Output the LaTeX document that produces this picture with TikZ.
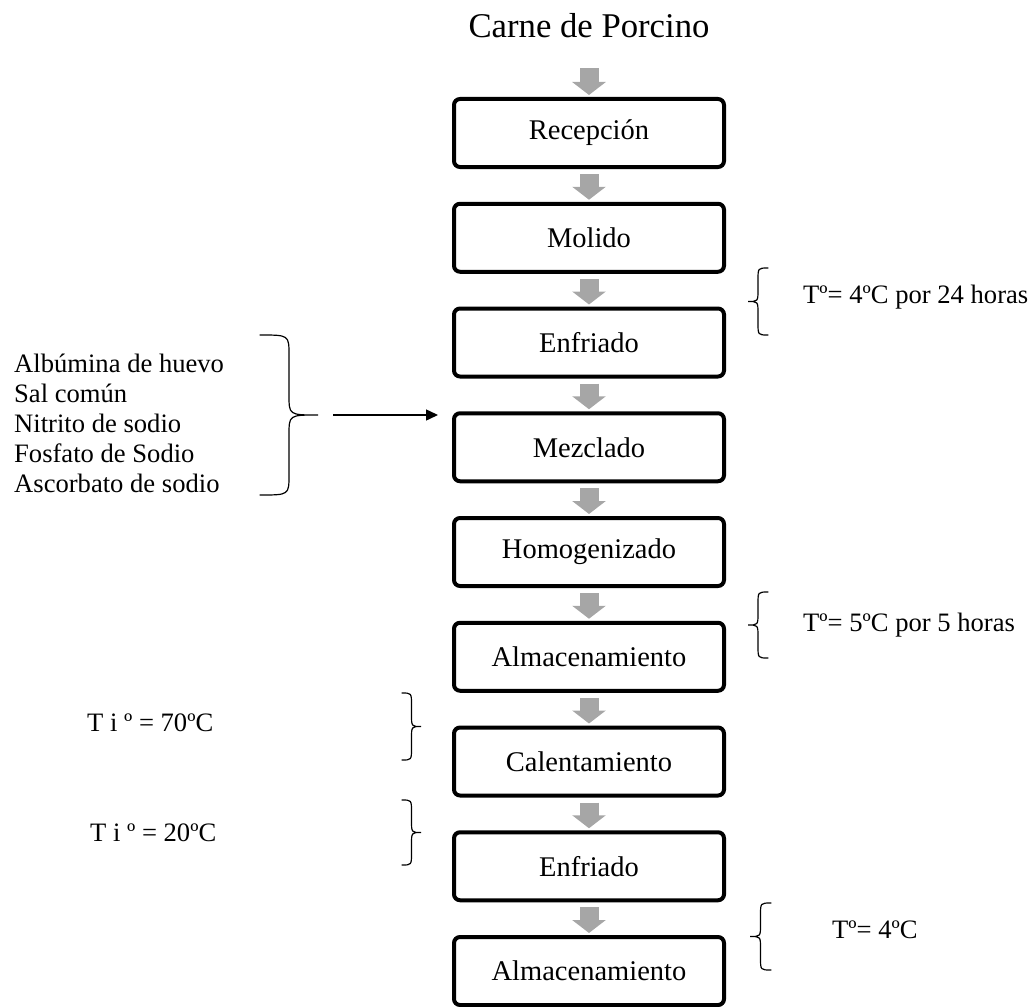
\documentclass[tikz,border=0pt]{standalone}
\usepackage{fontspec}
\setmainfont{Liberation Serif}
\usepackage{tikz}
\usetikzlibrary{calc,positioning,arrows.meta,shapes}
\definecolor{flowgray}{HTML}{A6A6A6}

% curly brace: x of the ends, top y, bottom y, signed depth, curl
\newcommand{\curlybr}[5]{%
  \draw[curly] (#1,#2) .. controls ({#1+(#4)/2},#2) .. ({#1+(#4)/2},#2+#5)
    -- ({#1+(#4)/2},{(#2+#3)/2-#5})
    .. controls ({#1+(#4)/2},{(#2+#3)/2}) .. ({#1+(#4)},{(#2+#3)/2})
    .. controls ({#1+(#4)/2},{(#2+#3)/2}) .. ({#1+(#4)/2},{(#2+#3)/2+#5})
    -- ({#1+(#4)/2},#3-#5) .. controls ({#1+(#4)/2},#3) .. (#1,#3);}

\begin{document}
\begin{tikzpicture}[
    x=1pt, y=-1pt,
    stage/.style={draw, line width=4pt, rounded corners=6pt,
      minimum width=270pt, minimum height=68pt, inner sep=0pt,
      font=\fontsize{28.5}{32}\selectfont},
    flow/.style={draw=flowgray, line width=19pt,
      -{Triangle[width=33pt,length=13pt]},
      shorten <=5pt, shorten >=2pt},
    feed/.style={line width=1.5pt, -{Triangle[width=11pt,length=12pt]}},
    curly/.style={line width=1.2pt, line cap=round},
    note/.style={inner sep=0pt, anchor=west,
      font=\fontsize{26.6}{30}\selectfont}]

    \useasboundingbox (0,0) rectangle (1030,1006);

    % vertices

    \node[inner sep=0pt, text depth=0pt, anchor=base,
      font=\fontsize{34.7}{40}\selectfont] (title) at (589,38)
      {Carne de Porcino};

    \node[stage] (recep) at (589,133) {Recepción};
    \node[stage] (molido) at (589,237.75) {Molido};
    \node[stage] (enfr1) at (589,342.5) {Enfriado};
    \node[stage] (mezcla) at (589,447.25) {Mezclado};
    \node[stage] (homog) at (589,552) {Homogenizado};
    \node[stage] (alm1) at (589,656.75) {Almacenamiento};
    \node[stage] (calent) at (589,761.5) {Calentamiento};
    \node[stage] (enfr2) at (589,866.25) {Enfriado};
    \node[stage] (alm2) at (589,971) {Almacenamiento};

    % notes

    \node[note, align=left] (ingred) at (14,423)
      {Albúmina de huevo\\Sal común\\Nitrito de sodio\\%
       Fosfato de Sodio\\Ascorbato de sodio};
    \node[note] (cond1) at (803,297) {Tº= 4ºC por 24 horas};
    \node[note] (cond2) at (803,625) {Tº= 5ºC por 5 horas};
    \node[note] (cond3) at (832,930) {Tº= 4ºC};
    \node[note] (heat) at (87,723) {T i º = 70ºC};
    \node[note] (cool) at (90,833) {T i º = 20ºC};

    % braces

    \curlybr{260}{335}{495}{58}{20}
    \coordinate (ingtip) at (318,415);
    \curlybr{768}{268}{335}{-20}{12}
    \curlybr{768}{592}{658}{-20}{12}
    \curlybr{771}{903}{970}{-21}{12}
    \curlybr{402}{693}{760}{19}{12}
    \curlybr{402}{800}{865}{19}{12}

    % edges

    \draw[flow, shorten <=30pt] (title) -- (recep);
    \draw[flow] (recep) -- (molido);
    \draw[flow] (molido) -- (enfr1);
    \draw[flow] (enfr1) -- (mezcla);
    \draw[flow] (mezcla) -- (homog);
    \draw[flow] (homog) -- (alm1);
    \draw[flow] (alm1) -- (calent);
    \draw[flow] (calent) -- (enfr2);
    \draw[flow] (enfr2) -- (alm2);

    \draw[feed, shorten <=15pt, shorten >=14pt]
      (ingtip) -- (ingtip -| mezcla.west);
  \end{tikzpicture}
\end{document}
